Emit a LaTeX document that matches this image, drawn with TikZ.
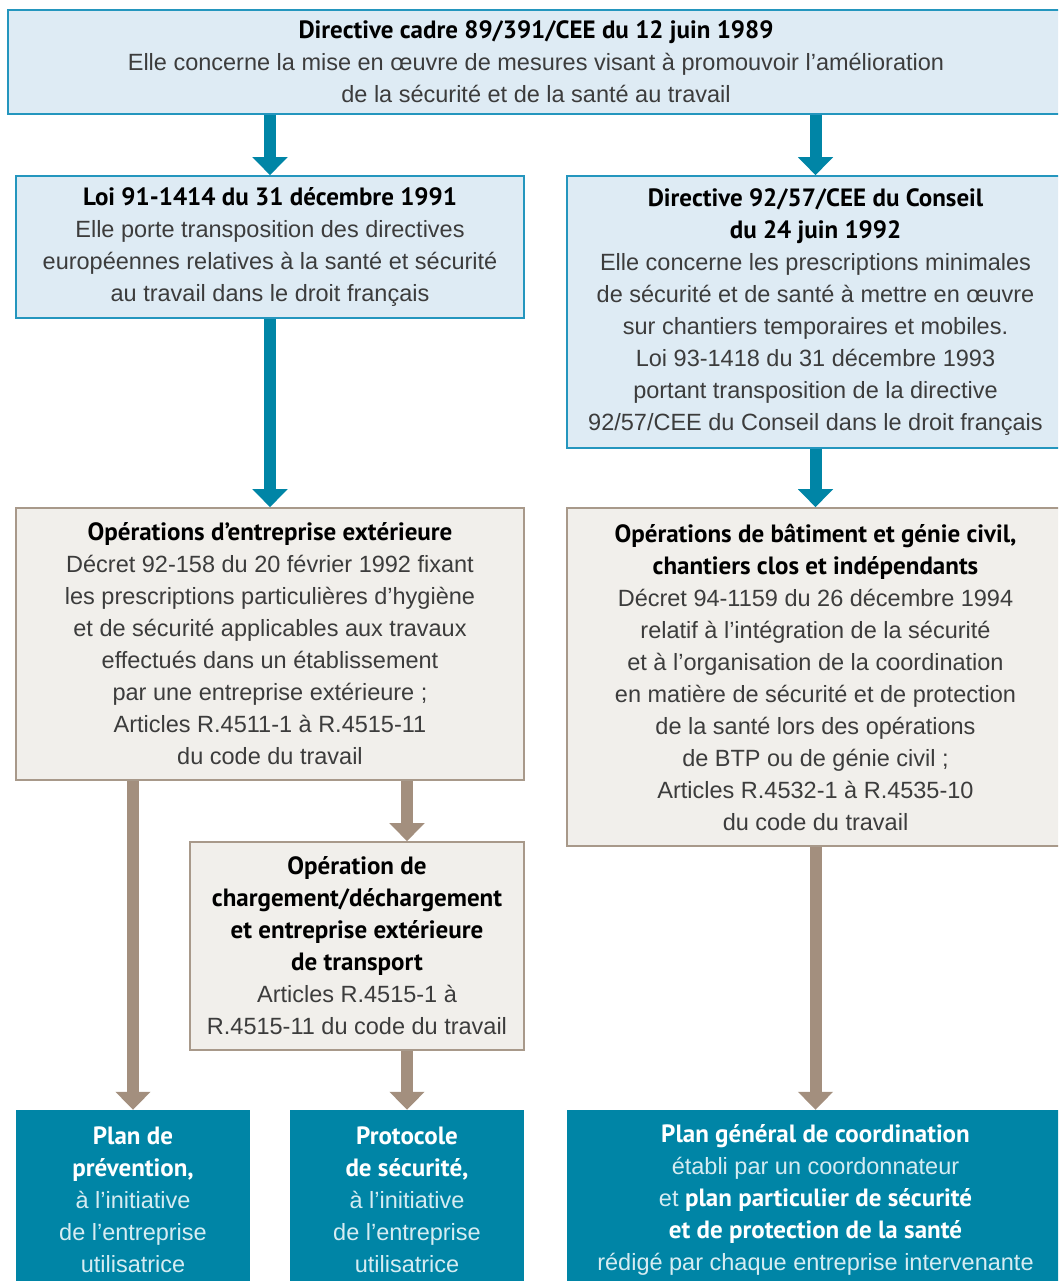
\documentclass[tikz,border=0pt]{standalone}
\usepackage{fontspec}
\setmainfont{Liberation Sans}
\newfontfamily\bfam{PT Sans}
\usetikzlibrary{arrows.meta,calc}
\definecolor{teal1}{HTML}{0085A6}
\definecolor{bluefill}{HTML}{DEEBF4}
\definecolor{blueline}{HTML}{2496BE}
\definecolor{beigefill}{HTML}{F1EFEB}
\definecolor{beigeline}{HTML}{A8998A}
\definecolor{brownarr}{HTML}{A38F7E}
\definecolor{txt}{HTML}{3C3C3C}
\definecolor{lighttxt}{HTML}{D6ECF2}
\newcommand{\hd}[1]{{\bfam\bfseries\fontsize{25}{32}\selectfont\color{black}#1}}
\newcommand{\hw}[1]{{\bfam\bfseries\fontsize{25}{32}\selectfont\color{white}#1}}
\tikzset{
  x=1pt,y=-1pt,
  bluebox/.style={draw=blueline,line width=1.6pt,fill=bluefill,align=center,inner sep=0pt,
    font=\fontsize{23.5}{32}\selectfont,text=txt},
  beigebox/.style={draw=beigeline,line width=1.6pt,fill=beigefill,align=center,inner sep=0pt,
    font=\fontsize{23.5}{32}\selectfont,text=txt},
  tealbox/.style={fill=teal1,align=center,inner sep=0pt,
    font=\fontsize{23.5}{32}\selectfont,text=lighttxt},
  tarr/.style={draw=teal1,line width=12pt,-{Triangle[width=34pt,length=18pt]}},
  barr/.style={draw=brownarr,line width=12pt,-{Triangle[width=34pt,length=18pt]}},
}
\begin{document}
\begin{tikzpicture}
\useasboundingbox (0,0) rectangle (1058,1281);
\clip (0,0) rectangle (1058,1281);
\node[bluebox,minimum width=1056pt,minimum height=104pt] (top) at (536,62)
 {\hd{Directive cadre 89/391/CEE du 12 juin 1989}\\
  Elle concerne la mise en œuvre de mesures visant à promouvoir l’amélioration\\
  de la sécurité et de la santé au travail};
\node[bluebox,minimum width=508pt,minimum height=142pt] (loi) at (270,247)
 {\hd{Loi 91-1414 du 31 décembre 1991}\\
  Elle porte transposition des directives\\
  européennes relatives à la santé et sécurité\\
  au travail dans le droit français};
\node[bluebox,minimum width=497pt,minimum height=272pt] (dir) at (815.5,312)
 {\hd{Directive 92/57/CEE du Conseil}\\
  \hd{du 24 juin 1992}\\
  Elle concerne les prescriptions minimales\\
  de sécurité et de santé à mettre en œuvre\\
  sur chantiers temporaires et mobiles.\\
  Loi 93-1418 du 31 décembre 1993\\
  portant transposition de la directive\\
  92/57/CEE du Conseil dans le droit français};
\node[beigebox,minimum width=508pt,minimum height=272pt] (opext) at (270,644)
 {\hd{Opérations d’entreprise extérieure}\\
  Décret 92-158 du 20 février 1992 fixant\\
  les prescriptions particulières d’hygiène\\
  et de sécurité applicables aux travaux\\
  effectués dans un établissement\\
  par une entreprise extérieure ;\\
  Articles R.4511-1 à R.4515-11\\
  du code du travail};
\node[beigebox,minimum width=497pt,minimum height=338pt] (opbat) at (815.5,677)
 {\hd{Opérations de bâtiment et génie civil,}\\
  \hd{chantiers clos et indépendants}\\
  Décret 94-1159 du 26 décembre 1994\\
  relatif à l’intégration de la sécurité\\
  et à l’organisation de la coordination\\
  en matière de sécurité et de protection\\
  de la santé lors des opérations\\
  de BTP ou de génie civil ;\\
  Articles R.4532-1 à R.4535-10\\
  du code du travail};
\node[beigebox,minimum width=334pt,minimum height=208pt] (charg) at (357,946)
 {\hd{Opération de}\\
  \hd{chargement/déchargement}\\
  \hd{et entreprise extérieure}\\
  \hd{de transport}\\
  Articles R.4515-1 à\\
  R.4515-11 du code du travail};
\node[tealbox,minimum width=234pt,minimum height=180pt] (prev) at (133,1200)
 {\hw{Plan de}\\
  \hw{prévention,}\\
  à l’initiative\\
  de l’entreprise\\
  utilisatrice};
\node[tealbox,minimum width=234pt,minimum height=180pt] (prot) at (407,1200)
 {\hw{Protocole}\\
  \hw{de sécurité,}\\
  à l’initiative\\
  de l’entreprise\\
  utilisatrice};
\node[tealbox,minimum width=497pt,minimum height=180pt] (pgc) at (815.5,1200)
 {\hw{Plan général de coordination}\\
  établi par un coordonnateur\\
  et \hw{plan particulier de sécurité}\\
  \hw{et de protection de la santé}\\
  rédigé par chaque entreprise intervenante};
\draw[tarr] (top.south -| loi.north) -- (loi.north);
\draw[tarr] (top.south -| dir.north) -- (dir.north);
\draw[tarr] (loi.south) -- (opext.north);
\draw[tarr] (dir.south) -- (opbat.north);
\draw[barr] (opext.south -| prev.north) -- (prev.north);
\draw[barr] (opext.south -| prot.north) -- (charg.north -| prot.north);
\draw[barr] (charg.south -| prot.north) -- (prot.north);
\draw[barr] (opbat.south) -- (pgc.north);
\end{tikzpicture}
\end{document}
